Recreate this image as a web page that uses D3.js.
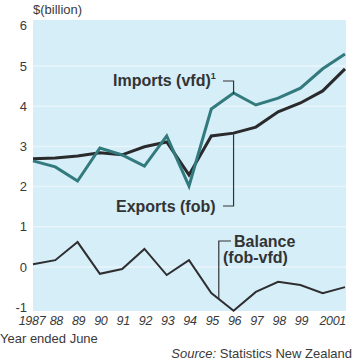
<!DOCTYPE html>
<html>
<head>
<meta charset="utf-8">
<script src="https://cdn.jsdelivr.net/npm/d3@7"></script>
<style>
  body { margin: 0; background: #fff; }
  text { font-family: "Liberation Sans", Arial, sans-serif; fill: #3a3a3a; }
  .tick-label { font-size: 13px; }
  .x-label { font-size: 12.5px; font-style: italic; letter-spacing: -0.3px; }
  .note { font-size: 16px; font-weight: bold; fill: #333; }
</style>
</head>
<body>
<svg id="chart" width="358" height="360"></svg>
<script>
const years = [1987, 1988, 1989, 1990, 1991, 1992, 1993, 1994, 1995, 1996, 1997, 1998, 1999, 2000, 2001];
const imports = [2.64, 2.49, 2.14, 2.96, 2.79, 2.51, 3.26, 2.01, 3.93, 4.33, 4.03, 4.20, 4.45, 4.93, 5.30];
const exports = [2.69, 2.71, 2.76, 2.84, 2.79, 2.99, 3.11, 2.29, 3.26, 3.33, 3.48, 3.86, 4.08, 4.38, 4.93];
const balance = [0.07, 0.17, 0.62, -0.17, -0.05, 0.45, -0.20, 0.17, -0.65, -1.09, -0.62, -0.37, -0.45, -0.65, -0.50];
const yTicks = [-1, 0, 1, 2, 3, 4, 5, 6];
const xTickLabels = ['1987', '88', '89', '90', '91', '92', '93', '94', '95', '96', '97', '98', '99', '', '2001'];

const colors = {
  BG: '#d5eef8',
  GRID: '#e8f6fb',
  IMPORTS: '#327a7d',
  EXPORTS: '#2a2a2c',
  BALANCE: '#2e2e30',
};

const plot = { left: 33, right: 346, top: 20, bottom: 311 };

const svg = d3.select('#chart');

const xScale = d3.scaleLinear()
  .domain([1987, 2001])
  .range([plot.left, plot.right - 1]);

const yScale = d3.scaleLinear()
  .domain([-1, 6])
  .range([307.2, 25.8]);

// background + gridlines
svg.append('rect')
  .attr('x', plot.left)
  .attr('y', plot.top)
  .attr('width', plot.right - plot.left)
  .attr('height', plot.bottom - plot.top)
  .attr('fill', colors.BG);

const gGrid = svg.append('g');
yTicks.forEach((t) => {
  if (t === 6 || t === -1) return;
  gGrid.append('line')
    .attr('x1', plot.left)
    .attr('x2', plot.right)
    .attr('y1', yScale(t))
    .attr('y2', yScale(t))
    .attr('stroke', colors.GRID)
    .attr('stroke-width', 1.5);
});

// y tick labels
const gAxis = svg.append('g');
yTicks.forEach((t) => {
  gAxis.append('text')
    .attr('x', 27)
    .attr('y', yScale(t))
    .attr('dy', '0.35em')
    .attr('text-anchor', 'end')
    .attr('class', 'tick-label')
    .text(t);
});

svg.append('text')
  .attr('x', 33)
  .attr('y', 14)
  .attr('class', 'tick-label')
  .text('$(billion)');

// x tick labels
years.forEach((y, i) => {
  if (!xTickLabels[i]) return;
  const last = i === years.length - 1;
  const first = i === 0;
  gAxis.append('text')
    .attr('x', first ? xScale(y) - 1 : xScale(y) + 1)
    .attr('y', 325)
    .attr('text-anchor', last ? 'end' : 'middle')
    .attr('class', 'x-label')
    .text(xTickLabels[i]);
});

svg.append('text')
  .attr('x', 0)
  .attr('y', 343)
  .attr('class', 'tick-label')
  .text('Year ended June');

const src = svg.append('text')
  .attr('x', 352)
  .attr('y', 358)
  .attr('text-anchor', 'end')
  .attr('class', 'tick-label');
src.append('tspan').attr('font-style', 'italic').text('Source:');
src.append('tspan').text(' Statistics New Zealand');

// lines
const line = (vals) => d3.line()
  .x((d, i) => xScale(years[i]))
  .y((d) => yScale(d))(vals);

svg.append('path')
  .attr('d', line(balance))
  .attr('fill', 'none')
  .attr('stroke', colors.BALANCE)
  .attr('stroke-width', 2)
  .attr('stroke-linejoin', 'miter');

svg.append('path')
  .attr('d', line(exports))
  .attr('fill', 'none')
  .attr('stroke', colors.EXPORTS)
  .attr('stroke-width', 3);

svg.append('path')
  .attr('d', line(imports))
  .attr('fill', 'none')
  .attr('stroke', colors.IMPORTS)
  .attr('stroke-width', 3);

// annotations
const i96 = years.indexOf(1996);
const gNote = svg.append('g');

const imp = gNote.append('text')
  .attr('x', 113)
  .attr('y', 86)
  .attr('class', 'note');
imp.append('tspan').text('Imports (vfd)');
imp.append('tspan').attr('font-size', '9px').attr('dy', -7).text('1');

gNote.append('path')
  .attr('d', `M223 81 H${xScale(1996)} V${yScale(imports[i96]) + 1}`)
  .attr('fill', 'none')
  .attr('stroke', '#333')
  .attr('stroke-width', 1.2);

gNote.append('text')
  .attr('x', 116)
  .attr('y', 212)
  .attr('class', 'note')
  .text('Exports (fob)');

gNote.append('path')
  .attr('d', `M223 206 H${xScale(1996)} V${yScale(exports[i96]) + 1}`)
  .attr('fill', 'none')
  .attr('stroke', '#333')
  .attr('stroke-width', 1.2);

gNote.append('text')
  .attr('x', 234)
  .attr('y', 247)
  .attr('class', 'note')
  .text('Balance');

gNote.append('text')
  .attr('x', 223)
  .attr('y', 263)
  .attr('class', 'note')
  .text('(fob-vfd)');

const xb = xScale(1995) + 7.5;
const yb = yScale(balance[8]) + (yScale(balance[9]) - yScale(balance[8])) * 7.5 / (xScale(1996) - xScale(1995));
gNote.append('path')
  .attr('d', `M231 241 H${xb} V${yb}`)
  .attr('fill', 'none')
  .attr('stroke', '#333')
  .attr('stroke-width', 1.2);
</script>
</body>
</html>
